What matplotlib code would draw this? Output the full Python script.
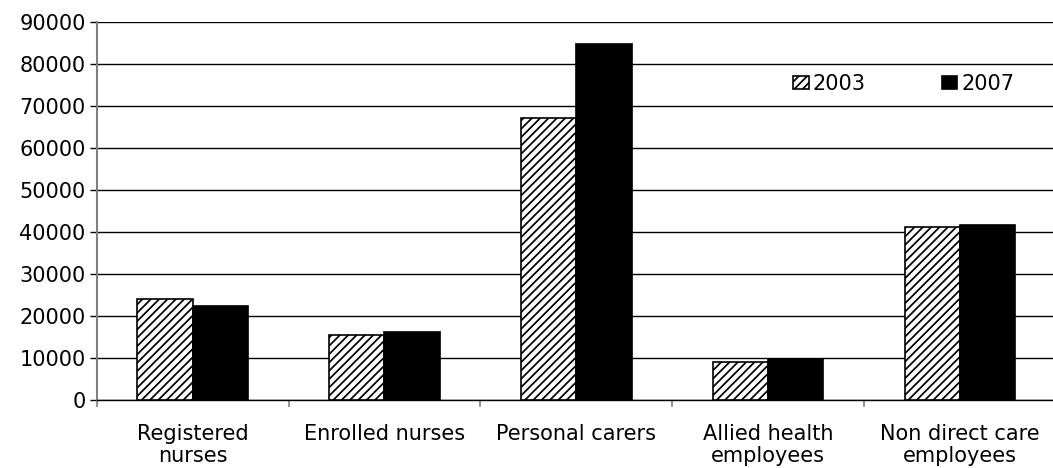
import matplotlib
matplotlib.use("Agg")
import matplotlib.pyplot as plt
import numpy as np

categories = ["Registered\nnurses", "Enrolled nurses", "Personal carers",
              "Allied health\nemployees", "Non direct care\nemployees"]
series_names = ["2003", "2007"]
values_2003 = [24000, 15600, 67200, 9000, 41200]
values_2007 = [22500, 16300, 84900, 9850, 41600]
yticks = [0, 10000, 20000, 30000, 40000, 50000, 60000, 70000, 80000, 90000]

plt.rcParams['font.family'] = ['DejaVu Sans']
plt.rcParams['hatch.linewidth'] = 1.25

fig = plt.figure(figsize=(10.53, 4.68), dpi=100)
ax = fig.add_axes([96.7/1053, 1-400/468, (1056-96.7)/1053, (400-22.3)/468])

x = np.arange(len(categories))
w = 0.288
ax.bar(x - w, values_2003, width=w, align='edge', facecolor='white',
       edgecolor='black', hatch='////', linewidth=1.2, label=series_names[0], zorder=3)
ax.bar(x, values_2007, width=w, align='edge', facecolor='black',
       edgecolor='black', linewidth=1.2, label=series_names[1], zorder=3)

ax.set_xlim(-0.5, len(categories) - 0.5)
ax.set_ylim(0, 90000)
ax.set_yticks(yticks)
ax.set_yticklabels([str(v) for v in yticks], fontsize=15)
ax.yaxis.grid(True, color='black', linewidth=1.0, zorder=0)
ax.set_axisbelow(True)

ax.set_xticks(x)
ax.set_xticklabels(categories, fontsize=15, linespacing=1.1)
ax.set_xticks(np.arange(-0.5, len(categories) + 0.5, 1), minor=True)
ax.tick_params(axis='x', which='major', length=0, pad=17.5)
ax.tick_params(axis='x', which='minor', length=5, width=1.2, color='#808080')
ax.tick_params(axis='y', length=5, width=1.0, color='black', pad=3)

for s in ['top', 'right']:
    ax.spines[s].set_visible(False)
ax.spines['left'].set_color('#808080')
ax.spines['left'].set_linewidth(1.5)
ax.spines['bottom'].set_color('black')
ax.spines['bottom'].set_linewidth(1.0)

ax.legend(loc='center left', bbox_to_anchor=(793/1053, 1-84/468),
          bbox_transform=fig.transFigure, ncol=2, frameon=False, fontsize=15,
          handlelength=0.75, handleheight=0.6, handletextpad=0.2,
          columnspacing=3.65, borderpad=0, borderaxespad=0)

fig.savefig("out.png", dpi=100)
